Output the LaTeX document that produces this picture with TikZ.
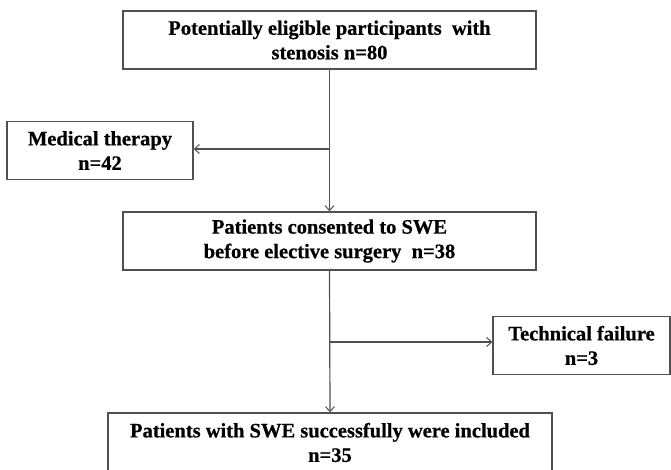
\documentclass[tikz,border=0pt]{standalone}
\usepackage{fontspec}
\setmainfont{Liberation Serif}[BoldFeatures={FakeBold=0.6}]
\usetikzlibrary{arrows.meta}
\definecolor{linegray}{HTML}{505050}
\tikzset{
  box/.style={draw=linegray, line width=1.4pt, minimum height=58pt, inner sep=0pt,
    align=center, font=\bfseries\fontsize{20.5}{24.5}\selectfont, text=black},
  conn/.style={draw=linegray, line width=1.2pt},
  arr/.style={conn, -{Straight Barb[length=5pt,width=9pt,line width=1pt]}}
}
\begin{document}
\begin{tikzpicture}[x=1pt,y=-1pt]
\useasboundingbox (0,0) rectangle (671,470);
\node[box, minimum width=413pt] (top) at (329.5,40) {Potentially eligible participants\ \ with\\stenosis n=80};
\node[box, minimum width=186pt] (med) at (100,150.5) {Medical therapy\\n=42};
\node[box, minimum width=413pt] (cons) at (329.5,241) {Patients consented to SWE\\before elective surgery\ \ n=38};
\node[box, minimum width=177pt] (tech) at (581.5,345.5) {Technical failure\\n=3};
\node[box, minimum width=444pt, minimum height=59pt] (fin) at (330,442.5) {Patients with SWE successfully were included\\n=35};
\coordinate (b1) at (top.south |- 0,149);
\coordinate (b2) at (cons.south |- 0,342);
\draw[arr] (top.south) -- (cons.north);
\draw[arr] (b1) -- (med.east |- b1);
\draw[arr] (cons.south) -- (fin.north);
\draw[arr] (b2) -- (tech.west |- b2);
\end{tikzpicture}
\end{document}
